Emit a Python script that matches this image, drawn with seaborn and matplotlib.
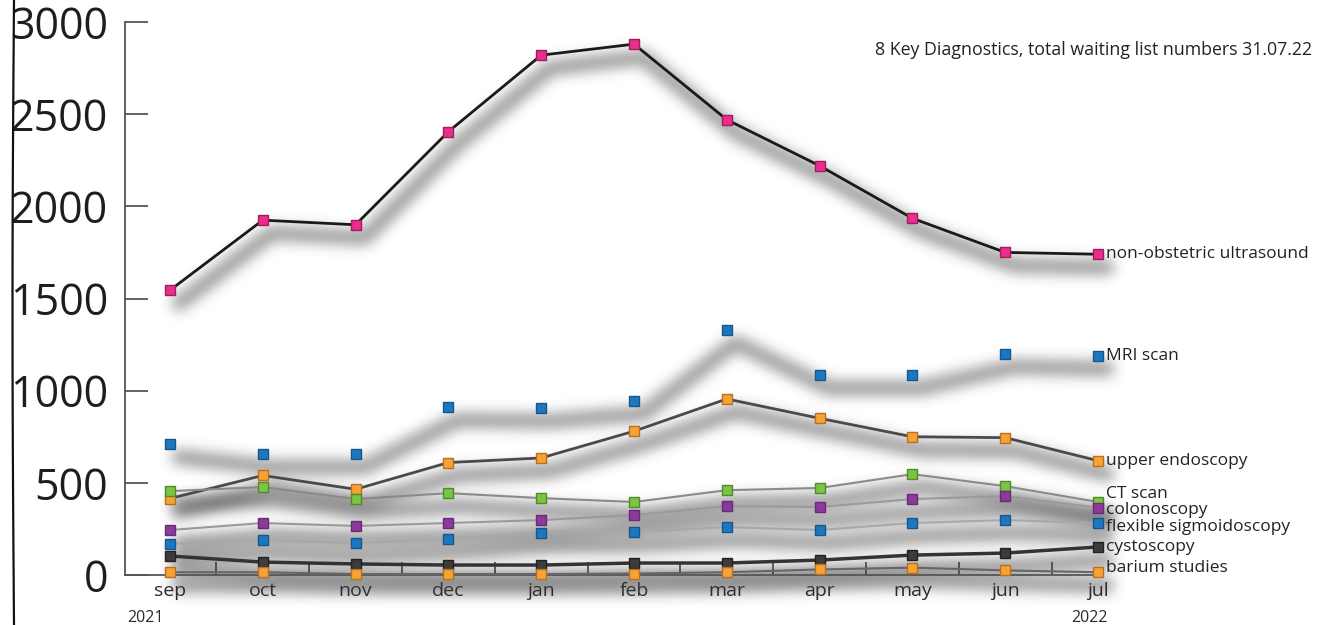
import numpy as np
import pandas as pd
import matplotlib
matplotlib.use("Agg")
import matplotlib.pyplot as plt
from matplotlib.transforms import ScaledTranslation
from matplotlib.lines import Line2D
from matplotlib.colors import to_rgb
import seaborn as sns

# ---- data: total waiting list numbers per month ----
months = ["sep", "oct", "nov", "dec", "jan", "feb", "mar", "apr", "may", "jun", "jul"]
ultrasound = [1545, 1925, 1900, 2405, 2820, 2880, 2470, 2220, 1935, 1750, 1740]
mri_scan = [710, 655, 655, 910, 905, 945, 1330, 1085, 1085, 1200, 1190]
upper_endoscopy = [415, 540, 465, 610, 635, 780, 955, 850, 750, 745, 620]
ct_scan = [455, 477, 412, 444, 417, 396, 460, 472, 547, 482, 396]
colonoscopy = [244, 282, 266, 282, 298, 325, 374, 369, 412, 428, 365]
flexible_sigmoidoscopy = [168, 190, 173, 195, 228, 233, 260, 244, 282, 298, 282]
cystoscopy = [103, 70, 60, 54, 54, 65, 65, 81, 108, 119, 152]
barium_studies = [15, 15, 5, 5, 5, 8, 15, 30, 40, 25, 15]
y_ticks = [0, 500, 1000, 1500, 2000, 2500, 3000]
title = "8 Key Diagnostics, total waiting list numbers 31.07.22"

series = {
    "non-obstetric ultrasound": ultrasound,
    "MRI scan": mri_scan,
    "upper endoscopy": upper_endoscopy,
    "CT scan": ct_scan,
    "colonoscopy": colonoscopy,
    "flexible sigmoidoscopy": flexible_sigmoidoscopy,
    "cystoscopy": cystoscopy,
    "barium studies": barium_studies,
}

# styles: marker face, marker edge, line colour (None = markers only), line width
styles = {
    "non-obstetric ultrasound": ("#ec2d8c", "#9a1f5a", "#1a1a1a", 2.0),
    "MRI scan": ("#1b78c0", "#17568a", None, 0),
    "upper endoscopy": ("#f7a234", "#b5711f", "#4a4a4a", 2.0),
    "CT scan": ("#7cc443", "#4f8a2c", "#8a8a8a", 1.5),
    "colonoscopy": ("#8b3a9a", "#6a2a7a", "#9a9a9a", 1.5),
    "flexible sigmoidoscopy": ("#1b78c0", "#17568a", "#a8a8a8", 1.5),
    "cystoscopy": ("#3c3c3c", "#222222", "#333333", 2.5),
    "barium studies": ("#f7a234", "#b5711f", "#666666", 1.5),
}

# vertical position of each series label (data units) where labels would collide
label_pos = {
    "CT scan": 440,
    "colonoscopy": 350,
    "flexible sigmoidoscopy": 258,
    "barium studies": 38,
}

frames = []
for name, vals in series.items():
    frames.append(pd.DataFrame({"month": np.arange(len(months)), "value": vals, "series": name}))
df = pd.concat(frames, ignore_index=True)


def _blur(a, sigma):
    r = int(3 * sigma)
    xs = np.arange(-r, r + 1)
    k = np.exp(-xs ** 2 / (2.0 * sigma ** 2))
    k /= k.sum()
    p = np.pad(a, ((r, r), (0, 0)))
    out = np.zeros_like(a)
    for i, w in enumerate(k):
        out += w * p[i:i + a.shape[0]]
    p = np.pad(out, ((0, 0), (r, r)))
    out2 = np.zeros_like(a)
    for i, w in enumerate(k):
        out2 += w * p[:, i:i + a.shape[1]]
    return out2


class SoftShadow:
    """agg filter turning a stroke into a blurred grey drop shadow"""

    def __init__(self, sigma, alpha, color):
        self.sigma = sigma
        self.alpha = alpha
        self.rgb = to_rgb(color)

    def __call__(self, im, dpi):
        pad = int(3 * self.sigma) + 2
        a = np.pad(im[..., 3], pad)
        a = np.clip(_blur(a, self.sigma) * self.alpha, 0, 1)
        out = np.zeros(a.shape + (4,))
        out[..., 0], out[..., 1], out[..., 2] = self.rgb
        out[..., 3] = a
        return out, -pad, -pad


sns.set_theme(style="white")
plt.rcParams["font.family"] = ["Open Sans", "DejaVu Sans"]

W, H = 1322, 625
fig = plt.figure(figsize=(W / 100, H / 100), dpi=100)
px = 92.8  # pixels per month
left_px, right_px, top_px, bot_px = 125, 1100, 22, 575
x0 = -(170 - left_px) / px
x1 = (right_px - 170) / px
ax = fig.add_axes([left_px / W, (H - bot_px) / H, (right_px - left_px) / W, (bot_px - top_px) / H])

shadow_off = ScaledTranslation(9 / 100, -13 / 100, fig.dpi_scale_trans)

for name in series:
    sub = df[df["series"] == name]
    # drop shadow
    sns.lineplot(data=sub, x="month", y="value", ax=ax, color="black",
                 linewidth=11, legend=False, errorbar=None, zorder=1)
    sh = ax.lines[-1]
    sh.set_transform(ax.transData + shadow_off)
    sh.set_solid_joinstyle("round")
    sh.set_solid_capstyle("round")
    sh.set_agg_filter(SoftShadow(6.5, 0.5, "#3a3a3a"))
    sh.set_clip_on(False)

for name in series:
    sub = df[df["series"] == name]
    face, edge, lcol, lw = styles[name]
    sns.lineplot(data=sub, x="month", y="value", ax=ax,
                 color=lcol if lcol else face, linewidth=lw if lcol else 0,
                 linestyle="-" if lcol else "None",
                 marker="s", markersize=7.5, markerfacecolor=face,
                 markeredgecolor=edge, markeredgewidth=1.0,
                 legend=False, errorbar=None, zorder=4, clip_on=False)
    yl = label_pos.get(name, series[name][-1])
    ax.annotate(name, xy=(len(months) - 1, yl), xytext=(6, 0), textcoords="offset points",
                ha="left", va="center", fontsize=12.5, color="#222222",
                annotation_clip=False)

ax.set_xlim(x0, x1)
ax.set_ylim(0, 3000)
ax.set_xlabel("")
ax.set_ylabel("")
ax.set_xticks(np.arange(len(months)))
ax.set_xticklabels(months)
ax.set_xticks(np.arange(len(months) - 1) + 0.5, minor=True)
ax.set_yticks(y_ticks)
ax.set_yticklabels([str(v) for v in y_ticks])

ax.tick_params(axis="y", which="major", direction="in", length=16.5, width=1.3,
               color="#555555", pad=12, labelsize=31, labelcolor="#1e1e1e", left=True)
ax.tick_params(axis="x", which="major", length=0, pad=5, labelsize=14, labelcolor="#2a2a2a")
ax.tick_params(axis="x", which="minor", direction="in", length=9.5, width=1.3,
               color="#555555", bottom=True)

for s in ["top", "right"]:
    ax.spines[s].set_visible(False)
for s in ["left", "bottom"]:
    ax.spines[s].set_color("#555555")
    ax.spines[s].set_linewidth(1.3)
ax.patch.set_alpha(0)

ax.annotate("2021", xy=(0, 0), xytext=(-18, -31), textcoords="offset points",
            ha="center", va="center", fontsize=11.5, color="#2a2a2a", annotation_clip=False)
ax.annotate("2022", xy=(len(months) - 1, 0), xytext=(-6, -31), textcoords="offset points",
            ha="center", va="center", fontsize=11.5, color="#2a2a2a", annotation_clip=False)

fig.text(1312 / W, 1 - 50 / H, title, ha="right", va="center", fontsize=12.8, color="#222222")

# hand-drawn border on the left edge
ys = np.linspace(0, H, 40)
xs = 14.0 - 1.5 * np.sin(ys / H * np.pi)
fig.add_artist(Line2D(xs / W, 1 - ys / H, transform=fig.transFigure, color="#111111", linewidth=1.6))

fig.savefig("out.png", dpi=100)
